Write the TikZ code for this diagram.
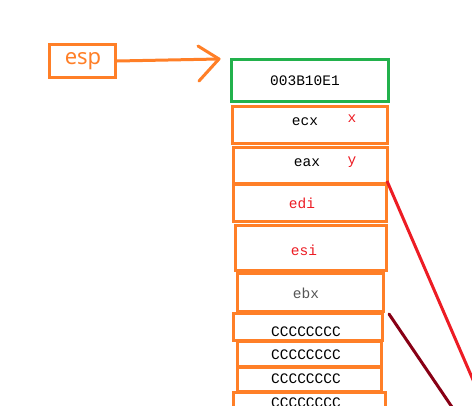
\documentclass[tikz,border=0pt]{standalone}
\usepackage{fontspec}
\setmainfont{Liberation Serif}
\newfontfamily\monofnt{Liberation Mono}
\newfontfamily\espfnt{Noto Sans}
\definecolor{orng}{RGB}{255,127,39}
\definecolor{grn}{RGB}{34,177,76}
\definecolor{rd}{RGB}{237,28,36}
\definecolor{drd}{RGB}{136,0,21}
\definecolor{gry}{RGB}{85,85,85}
\tikzset{
  cell/.style={draw=orng, line width=3pt, rectangle, inner sep=0pt},
  topcell/.style={draw=grn, line width=3pt, rectangle, inner sep=0pt},
  lbl/.style={inner sep=0pt, font=\monofnt\fontsize{14.5}{16}\selectfont},
  rlbl/.style={lbl, text=rd},
  wire/.style={line width=3pt, line cap=round},
}
\begin{document}
\begin{tikzpicture}[x=1pt,y=-1pt]
\useasboundingbox (0,0) rectangle (472,405);
\fill[white] (0,0) rectangle (472,405);
\clip (0,0) rectangle (472,405);
% esp
\node[cell, minimum width=66pt, minimum height=33pt] (esp) at (82.5,61) {};
\node[inner sep=0pt, text=orng, font=\espfnt\fontsize{22}{24}\selectfont] (esptxt) at (83,61.5) {esp};
\coordinate (tip) at (219,59);
\coordinate (hu) at (198,46);
\coordinate (hl) at (199,81);
\draw[wire, draw=orng] (esp.east) -- (tip);
\draw[wire, draw=orng, line join=round] (hu) -- (tip) -- (hl);
% stack
\node[topcell, minimum width=157pt, minimum height=42pt] (top) at (310,80.5) {};
\node[lbl] (toptxt) at (305,81) {003B10E1};
\node[cell, minimum width=155pt, minimum height=37pt] (ecx) at (310,125) {};
\node[lbl] (ecxtxt) at (305,122) {ecx};
\node[rlbl] (xtxt) at (352,119) {x};
\node[cell, minimum width=154pt, minimum height=36pt] (eax) at (310.5,165.5) {};
\node[lbl] (eaxtxt) at (307,163) {eax};
\node[rlbl] (ytxt) at (352,162) {y};
\node[cell, minimum width=153pt, minimum height=37pt] (edi) at (310,203) {};
\node[rlbl] (editxt) at (302,203) {edi};
\node[cell, minimum width=151pt, minimum height=45pt] (esi) at (311,248) {};
\node[rlbl] (esitxt) at (304,250) {esi};
\node[cell, minimum width=146pt, minimum height=38pt] (ebx) at (310.5,292.5) {};
\node[lbl, text=gry] (ebxtxt) at (306,293) {ebx};
\node[cell, minimum width=149pt, minimum height=27pt] (c1) at (308,327) {};
\node[lbl] (c1txt) at (306,332) {CCCCCCCC};
\node[cell, minimum width=144pt, minimum height=25pt] (c2) at (309.5,354) {};
\node[lbl] (c2txt) at (306,355) {CCCCCCCC};
\node[cell, minimum width=144pt, minimum height=24pt] (c3) at (309.5,379.5) {};
\node[lbl] (c3txt) at (306,379) {CCCCCCCC};
\node[cell, minimum width=152pt, minimum height=30pt] (c4) at (309.5,407) {};
\node[lbl] (c4txt) at (306,403) {CCCCCCCC};
% lines
\coordinate (r1) at (387,181);
\coordinate (r2) at (480,396);
\draw[wire, draw=rd, line cap=butt] (r1) -- (r2);
\coordinate (d1) at (389,314);
\coordinate (d2) at (454,410);
\draw[wire, draw=drd] (d1) -- (d2);
\end{tikzpicture}
\end{document}
